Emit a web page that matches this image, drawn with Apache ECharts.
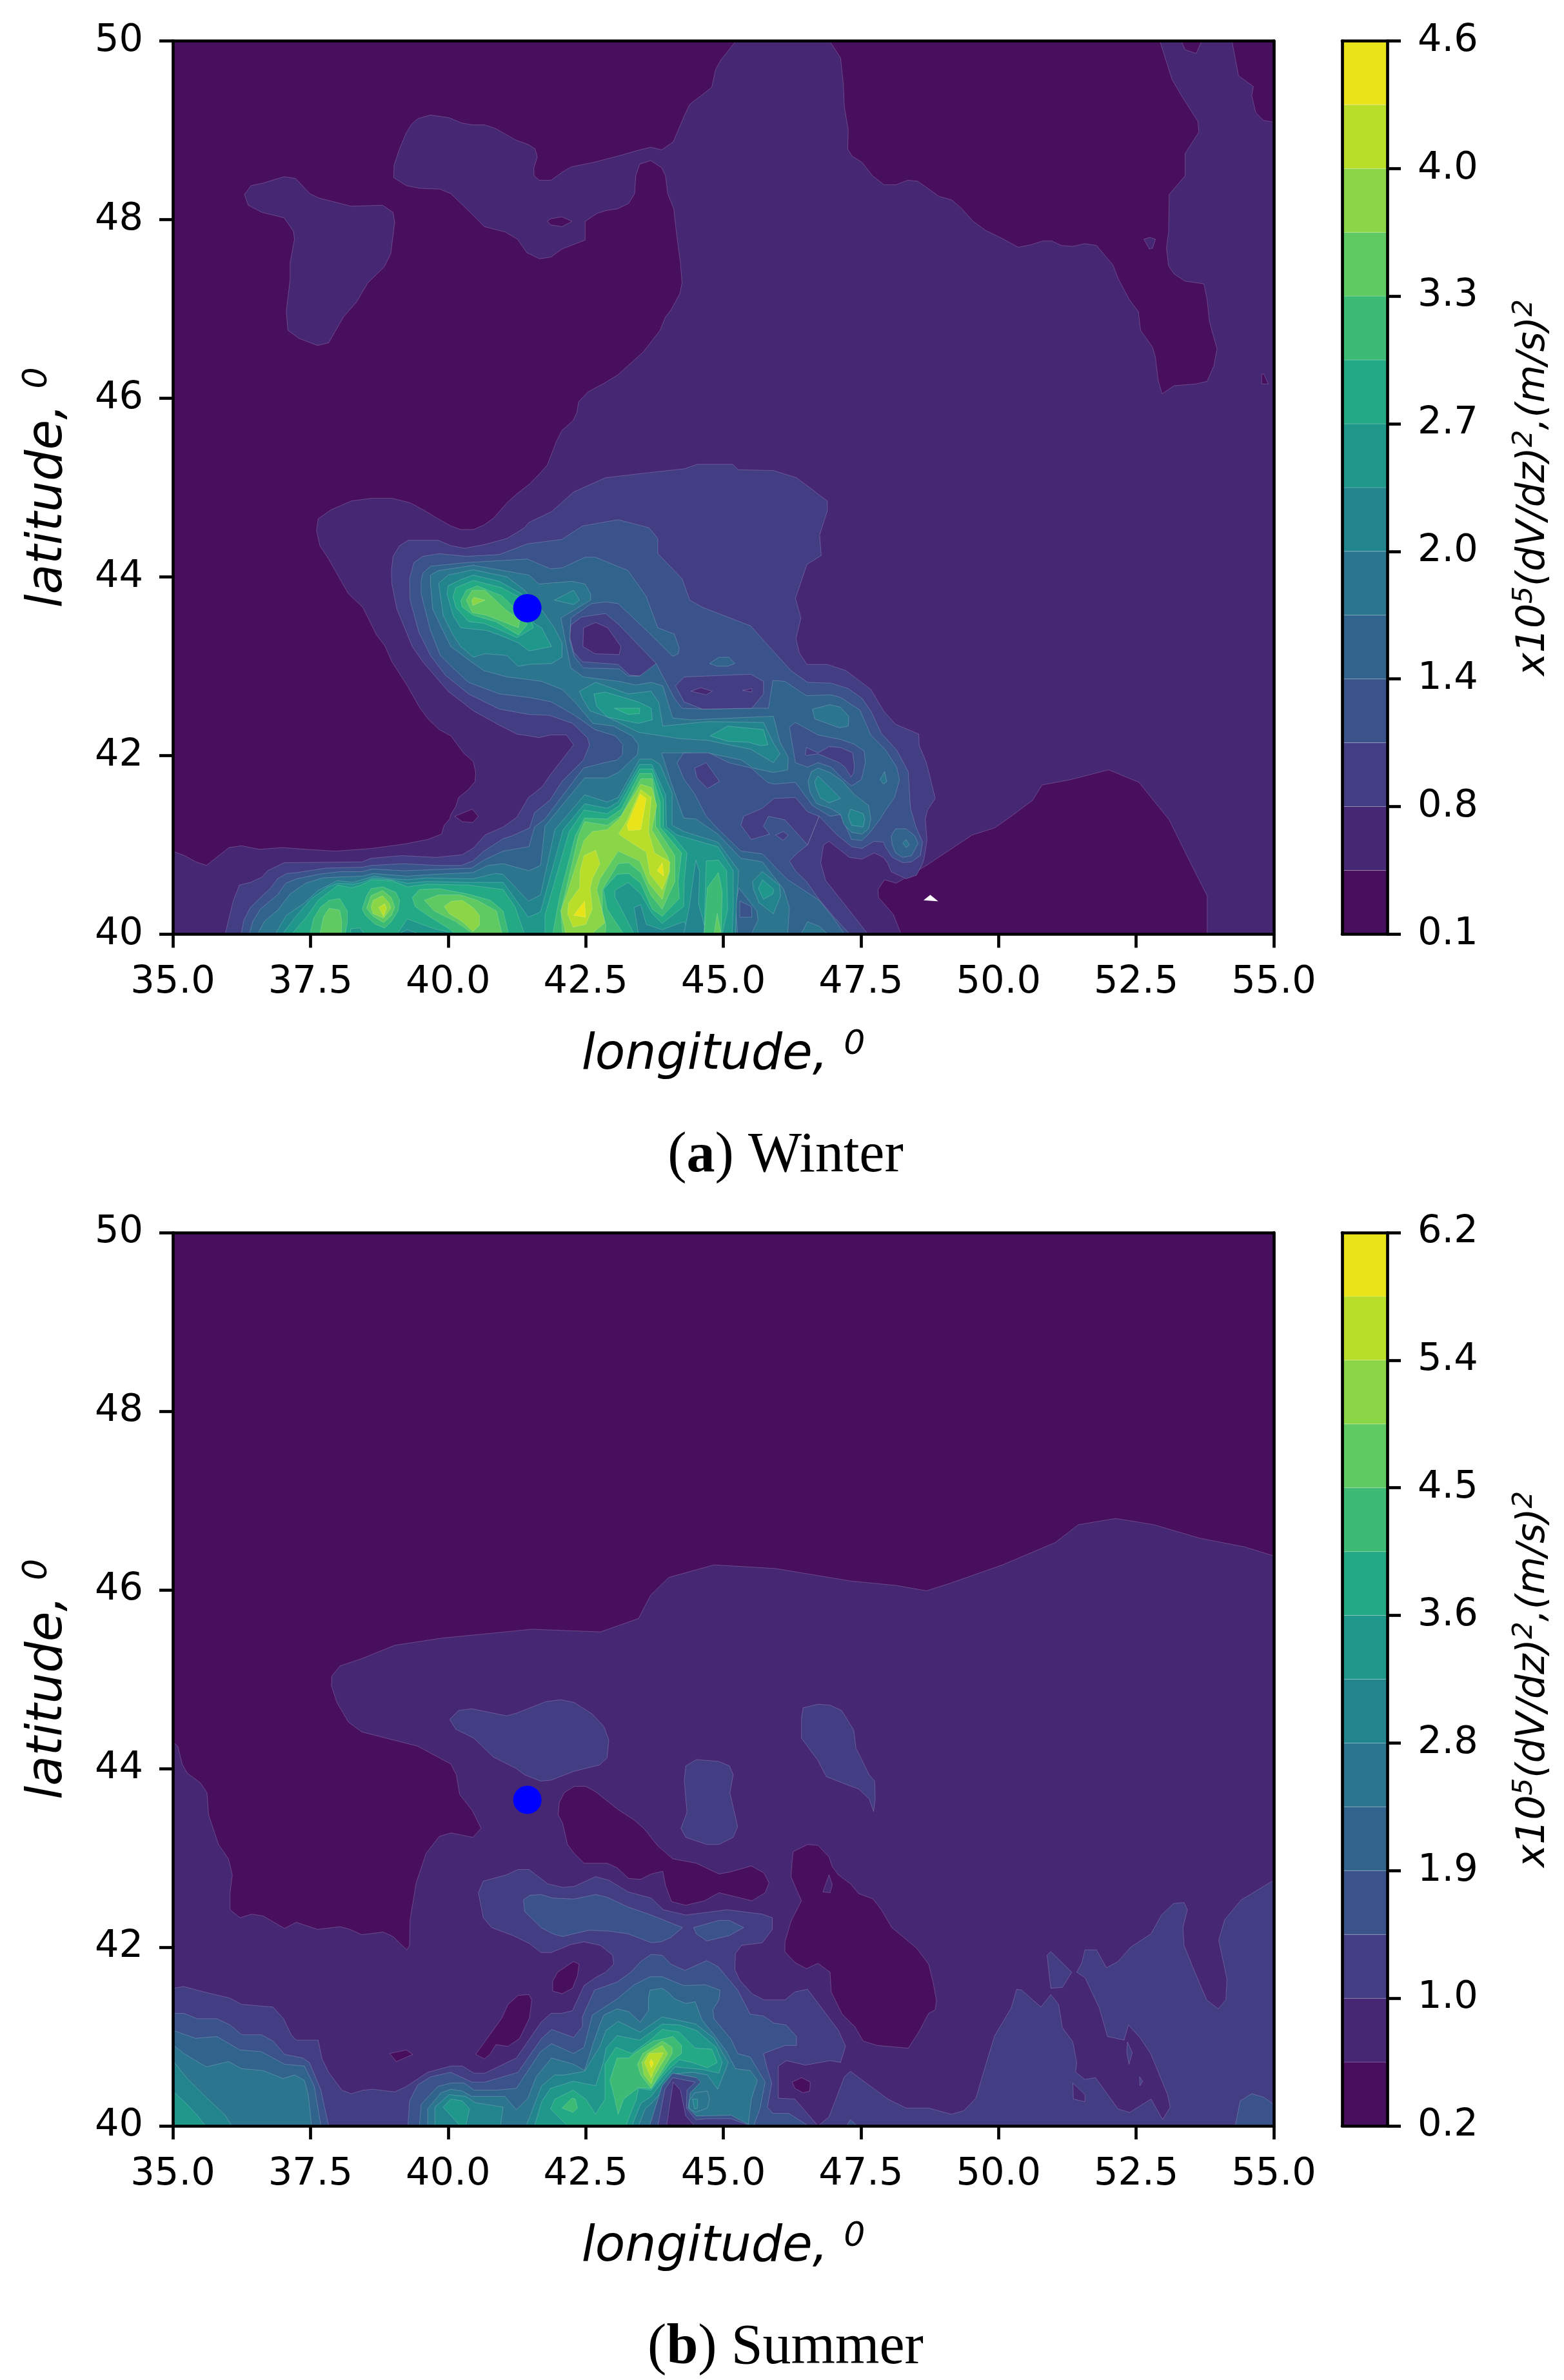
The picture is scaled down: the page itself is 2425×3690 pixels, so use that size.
<!DOCTYPE html>
<html>
<head>
<meta charset="utf-8">
<title>dV/dz winter summer</title>
<script src="https://cdn.jsdelivr.net/npm/echarts@6/dist/echarts.min.js"></script>
<style>
  html, body { margin: 0; background: #fff; }
  #chart { width: 2425px; height: 3690px; }
</style>
</head>
<body>
<div id="chart"></div>
<script>
// colour bands, low to high (last one = blank white spot)
const bandColors = ['#480f5f', '#462774', '#433d84', '#3a538b', '#31648d', '#2b758e', '#22858e',
  '#1f978b', '#23a983', '#3dbb75', '#5fca61', '#8bd646', '#b8de29', '#e8e419', '#ffffff']
const winterTicks = ['0.1', '0.8', '1.4', '2.0', '2.7', '3.3', '4.0', '4.6']
const summerTicks = ['0.2', '1.0', '1.9', '2.8', '3.6', '4.5', '5.4', '6.2']
const siteLon = [41.44]
const siteLat = [43.65]

// filled contours: [band, [lon, lat, lon, lat, ...]], painted in order
const winterContours = [
  [0, [35,40, 55,40, 55,50, 35,50]],
  [1, [45.23,50, 44.96,49.79, 44.86,49.68, 44.79,49.48, 44.39,49.29, 44.29,49.16, 44.09,48.87, 43.88,48.78, 43.68,48.81, 43.48,48.78, 43.08,48.71, 42.64,48.64, 42.24,48.59, 42.07,48.53, 41.87,48.44, 41.66,48.44, 41.56,48.49, 41.56,48.58, 41.62,48.7, 41.58,48.79, 41.46,48.84, 41.23,48.89, 40.86,49.02, 40.66,49.06, 40.45,49.06, 40.25,49.08, 40.02,49.14, 39.68,49.17, 39.45,49.13, 39.34,49.07, 39.24,48.97, 39.11,48.78, 39.02,48.61, 39.01,48.47, 39.24,48.38, 39.48,48.35, 39.85,48.34, 40.05,48.29, 40.42,48.07, 40.66,47.92, 41.04,47.86, 41.26,47.78, 41.43,47.63, 41.66,47.56, 41.87,47.58, 42.07,47.67, 42.49,47.77, 42.49,47.98, 42.71,48.07, 42.87,48.1, 43.08,48.12, 43.28,48.18, 43.39,48.29, 43.41,48.49, 43.48,48.62, 43.68,48.66, 43.88,48.58, 43.95,48.49, 43.99,48.29, 44.1,48.12, 44.15,47.84, 44.22,47.52, 44.25,47.29, 44.21,47.17, 44.05,46.99, 43.95,46.91, 43.85,46.76, 43.55,46.52, 43.08,46.26, 42.84,46.17, 42.54,46.07, 42.37,45.96, 42.34,45.84, 42.27,45.75, 42.07,45.64, 41.97,45.52, 41.8,45.25, 41.67,45.16, 41.48,45.04, 41.25,44.93, 41.07,44.83, 40.83,44.66, 40.65,44.58, 40.46,44.53, 40.23,44.53, 40.05,44.57, 39.82,44.65, 39.58,44.74, 39.31,44.83, 38.98,44.88, 38.61,44.88, 38.24,44.85, 37.87,44.75, 37.64,44.65, 37.61,44.52, 37.67,44.35, 37.82,44.21, 38.06,43.95, 38.19,43.81, 38.45,43.66, 38.7,43.35, 38.85,43.23, 38.98,43.05, 39.26,42.78, 39.49,42.53, 39.65,42.4, 39.84,42.29, 40.05,42.22, 40.28,42.03, 40.46,41.93, 40.5,41.81, 40.49,41.71, 40.37,41.62, 40.19,41.53, 40.14,41.43, 40.05,41.34, 40.03,41.29, 39.93,41.22, 39.88,41.12, 39.63,41.06, 39.21,41.01, 38.61,40.96, 37.96,40.93, 37.42,40.95, 36.99,40.97, 36.57,40.95, 36.25,40.99, 36.02,40.97, 35.61,40.77, 35.42,40.81, 35.21,40.88, 35,40.93, 35,40, 55,40, 55,50]],
  [1, [36.3,48.28, 36.42,48.38, 36.65,48.41, 37.02,48.48, 37.23,48.46, 37.49,48.29, 37.66,48.24, 38.24,48.15, 38.81,48.16, 39,48.08, 39.03,47.97, 38.96,47.62, 38.84,47.47, 38.54,47.29, 38.34,47.08, 38.1,46.91, 37.83,46.62, 37.63,46.59, 37.29,46.67, 37.09,46.76, 37.06,46.97, 37.13,47.33, 37.13,47.52, 37.21,47.78, 37.19,47.87, 37.02,48.02, 36.62,48.08, 36.37,48.16]],
  [0, [41.8,47.98, 41.87,48.01, 42.07,48.03, 42.25,47.98, 42.07,47.92, 41.87,47.94]],
  [0, [46.93,50, 47.13,49.81, 47.18,49.52, 47.2,49.26, 47.27,49, 47.26,48.79, 47.34,48.71, 47.52,48.64, 47.71,48.49, 47.92,48.39, 48.14,48.39, 48.35,48.44, 48.53,48.43, 48.92,48.26, 49.15,48.22, 49.32,48.13, 49.54,47.98, 49.76,47.88, 50.06,47.79, 50.36,47.69, 50.6,47.72, 50.8,47.76, 50.97,47.76, 51.14,47.71, 51.34,47.7, 51.57,47.73, 51.78,47.71, 52.08,47.49, 52.18,47.33, 52.38,47.1, 52.54,46.97, 52.58,46.76, 52.8,46.57, 52.85,46.46, 52.9,46.2, 52.97,46.05, 53.19,46.14, 53.59,46.16, 53.79,46.19, 53.91,46.36, 53.97,46.55, 53.83,46.86, 53.79,47.1, 53.73,47.28, 53.39,47.31, 53.19,47.39, 53.09,47.48, 53.05,47.68, 53.09,47.87, 53.1,48.28, 53.39,48.49, 53.39,48.74, 53.64,48.98, 53.62,49.1, 53.32,49.39, 53.15,49.57, 52.93,50]],
  [1, [52.64,47.78, 52.75,47.8, 52.85,47.78, 52.8,47.68, 52.74,47.67]],
  [0, [54.24,50, 54.36,49.61, 54.63,49.49, 54.6,49.39, 54.67,49.2, 54.81,49.11, 55,49.09, 55,50]],
  [0, [53.32,50, 53.39,49.9, 53.59,49.86, 53.69,50]],
  [0, [54.78,46.27, 54.82,46.27, 54.9,46.16, 54.78,46.16]],
  [0, [48.23,40, 48.09,40.22, 47.95,40.32, 47.82,40.41, 47.81,40.5, 47.93,40.61, 48.14,40.57, 48.69,40.77, 49.52,41.11, 49.93,41.19, 50.21,41.31, 50.62,41.5, 50.79,41.67, 51.31,41.73, 52,41.84, 52.55,41.7, 53.1,41.28, 53.51,40.77, 53.79,40.43, 53.79,40]],
  [0, [40.12,41.32, 40.44,41.4, 40.55,41.32, 40.45,41.25, 40.26,41.26]],
  [14, [48.64,40.38, 48.76,40.44, 48.9,40.37]],
  // band 2
  [2, [35.95,40, 36.1,40.38, 36.21,40.55, 36.41,40.58, 36.62,40.64, 36.72,40.71, 37.02,40.8, 38.44,40.81, 38.6,40.85, 39.16,40.88, 39.79,40.86, 40.26,40.89, 40.47,40.97, 40.67,41.11, 41,41.2, 41.25,41.31, 41.46,41.53, 41.71,41.65, 41.84,41.77, 42.28,42.12, 42.15,42.23, 41.86,42.23, 41.65,42.2, 41.47,42.22, 41.25,42.24, 40.93,42.34, 40.46,42.5, 40,42.72, 39.54,43.05, 39.35,43.22, 39.07,43.64, 38.98,43.92, 38.97,44.07, 39,44.23, 39.12,44.35, 39.28,44.41, 39.82,44.41, 40.05,44.35, 40.3,44.32, 40.65,44.36, 41.07,44.43, 41.39,44.55, 41.47,44.61, 41.88,44.73, 42.28,44.95, 42.86,45.11, 43.55,45.16, 44.29,45.21, 44.53,45.26, 45.17,45.26, 45.27,45.2, 45.91,45.19, 46.33,45.11, 46.89,44.85, 46.89,44.74, 46.75,44.47, 46.78,44.24, 46.52,44.14, 46.31,43.76, 46.41,43.54, 46.32,43.31, 46.38,43.15, 46.52,43.02, 46.89,43.02, 47.23,42.95, 47.68,42.74, 47.91,42.5, 48.13,42.35, 48.55,42.24, 48.56,42.11, 48.69,41.92, 48.85,41.52, 48.71,41.39, 48.67,41.29, 48.7,41.05, 48.65,40.86, 48.62,40.79, 48.51,40.66, 48.32,40.62, 48.05,40.7, 47.99,40.79, 47.91,40.86, 47.74,40.91, 47.52,40.84, 47.29,40.86, 46.92,41.04, 46.82,41, 46.77,40.8, 46.86,40.6, 47.17,40.36, 47.63,40]],
  // band 3
  [3, [36.24,40, 36.29,40.16, 36.41,40.3, 36.59,40.41, 36.78,40.52, 36.9,40.62, 37.07,40.68, 37.25,40.69, 37.78,40.74, 38.44,40.75, 38.6,40.77, 39.2,40.79, 39.79,40.77, 40.24,40.77, 40.45,40.82, 40.65,40.93, 41,41.07, 41.16,41.1, 41.48,41.19, 41.57,41.36, 41.85,41.5, 42.07,41.71, 42.46,41.95, 42.57,42.12, 42.53,42.2, 42.26,42.36, 41.84,42.45, 41.47,42.46, 40.93,42.52, 40.37,42.69, 39.95,42.9, 39.68,43.12, 39.47,43.38, 39.31,43.74, 39.3,43.98, 39.38,44.16, 39.54,44.23, 39.84,44.26, 40.33,44.23, 40.93,44.25, 41.44,44.37, 42.07,44.42, 42.44,44.57, 43.09,44.64, 43.65,44.55, 43.81,44.43, 43.81,44.26, 44.25,43.98, 44.39,43.74, 44.62,43.66, 45.5,43.45, 45.73,43.29, 46.23,42.95, 46.53,42.82, 46.96,42.81, 47.27,42.75, 47.52,42.64, 47.68,42.5, 47.87,42.25, 48.15,42.06, 48.36,41.82, 48.4,41.41, 48.5,41.2, 48.62,41.03, 48.58,40.88, 48.42,40.81, 48.26,40.8, 48.07,40.86, 47.95,40.97, 47.91,41.03, 47.74,41.04, 47.52,40.96, 47.33,40.98, 47.05,41.12, 46.74,41.32, 46.53,41, 46.35,40.91, 46.2,40.82, 46.31,40.71, 46.51,40.59, 46.74,40.39, 47,40.2, 47.3,40]],
  [2, [45.32,41.22, 45.37,41.32, 45.71,41.41, 45.92,41.52, 46.31,41.53, 46.53,41.37, 46.74,41.32, 46.53,41, 46.12,41.28, 45.82,41.32, 45.73,41.21, 45.84,41.12, 45.51,41.06]],
  [2, [45.95,41.11, 46.09,41.15, 46.18,41.11, 46.09,41.05]],
  [2, [42.23,43.46, 42.42,43.55, 42.86,43.59, 43.11,43.46, 43.78,43.03, 43.65,42.93, 43.48,42.89, 43.3,42.9, 43.09,43.02, 42.44,43.05, 42.28,43.16, 42.21,43.33]],
  [1, [42.46,43.43, 42.68,43.49, 42.9,43.43, 43.14,43.22, 43.11,43.13, 42.67,43.14, 42.45,43.22]],
  [4, [44.75,43.03, 44.92,43.1, 45.1,43.1, 45.21,43.03, 45.08,43, 44.89,43]],
  // band 4
  [4, [36.39,40, 36.45,40.14, 36.59,40.28, 36.9,40.44, 37.05,40.57, 37.25,40.62, 37.64,40.67, 38.03,40.7, 38.44,40.7, 38.62,40.73, 39.2,40.71, 40.43,40.74, 40.65,40.83, 41,40.93, 41.47,40.98, 41.57,41.2, 41.76,41.29, 42.46,41.86, 42.84,41.92, 43.07,41.95, 43.17,42.01, 43.17,42.1, 43.18,42.12, 43.04,42.22, 42.67,42.29, 42.3,42.45, 41.88,42.6, 41.47,42.65, 40.93,42.69, 40.37,42.82, 40.09,42.98, 39.86,43.12, 39.68,43.4, 39.51,43.81, 39.51,43.95, 39.54,44.04, 39.68,44.12, 40.33,44.16, 41.44,44.2, 41.86,44.09, 42.07,44.1, 42.49,44.22, 42.68,44.22, 43.27,44.07, 43.6,43.78, 43.81,43.43, 44.11,43.36, 44.2,43.2, 44.18,43.14, 44.08,43.11, 43.64,43.38, 43.09,43.7, 42.88,43.72, 42.6,43.7, 42.23,43.54, 42.21,43.29, 42.3,43.1, 42.46,42.98, 43.11,42.97, 43.27,42.89, 43.48,42.89, 43.78,43.03, 44.11,42.64, 44.25,42.53, 44.64,42.52, 45.52,42.53, 45.82,42.53, 45.9,42.84, 45.92,42.84, 46.12,42.83, 46.51,42.67, 46.96,42.68, 47.13,42.65, 47.48,42.51, 47.68,42.23, 47.95,42.06, 48.15,41.87, 48.2,41.73, 48.11,41.53, 47.95,41.39, 47.85,41.29, 47.64,41.12, 47.52,41.05, 47.33,41.06, 47.13,41.34, 46.94,41.32, 46.62,41.44, 46.31,41.7, 45.92,41.68, 45.8,41.7, 45.51,41.86, 45.1,41.92, 44.71,42.04, 44.28,42.03, 44.16,41.92, 44.28,41.74, 44.47,41.58, 44.69,41.32, 44.9,41.18, 45.32,40.93, 45.71,40.9, 46.15,40.62, 46.74,40.38, 47,40.18, 47.2,40]],
  [2, [44.13,42.78, 44.29,42.88, 45.5,42.91, 45.73,42.83, 45.73,42.69, 45.52,42.53, 44.62,42.52, 44.29,42.6]],
  [1, [44.41,42.72, 44.59,42.76, 44.8,42.72, 44.69,42.68]],
  [1, [45.35,42.73, 45.52,42.75, 45.52,42.71]],
  [2, [44.48,41.86, 44.69,41.92, 44.93,41.71, 44.71,41.63, 44.52,41.75]],
  [3, [46.2,42.32, 46.31,42.37, 46.72,42.23, 47.13,42.18, 47.37,42.13, 47.56,42.05, 47.58,41.92, 47.51,41.73, 47.33,41.66, 47.17,41.74, 46.96,41.87, 46.72,41.92, 46.53,41.87, 46.31,41.92]],
  [2, [46.49,42.01, 46.51,42.09, 46.72,42.03, 46.92,42.1, 47.13,42.09, 47.35,42.03, 47.38,41.89, 47.37,41.81, 47.32,41.76, 47.21,41.87, 47.11,41.92, 46.72,42.02, 46.51,42]],
  [4, [48.05,41.1, 48.13,41.18, 48.32,41.18, 48.48,41.1, 48.54,41.02, 48.42,40.88, 48.26,40.86, 48.13,40.91, 48.07,41]],
  [5, [48.26,41.02, 48.32,41.06, 48.38,41, 48.32,40.97]],
  // band 5
  [5, [36.54,40, 36.66,40.14, 36.92,40.28, 37.13,40.45, 37.41,40.57, 37.72,40.63, 38.03,40.64, 38.44,40.65, 38.64,40.68, 39.26,40.65, 39.75,40.67, 40.45,40.69, 40.73,40.77, 41,40.79, 41.47,40.71, 41.68,40.77, 41.76,41.21, 42.48,41.75, 42.89,41.75, 43.09,41.81, 43.44,42.01, 43.46,42.12, 43.34,42.22, 43,42.33, 42.63,42.36, 42.3,42.6, 42.07,42.74, 41.7,42.83, 41.47,42.85, 41.07,42.88, 40.65,42.95, 40.42,43.05, 40.05,43.22, 39.88,43.43, 39.72,43.64, 39.68,43.92, 39.68,44.02, 39.82,44.07, 40.46,44.13, 41.47,44.02, 41.65,43.92, 42.25,43.95, 42.49,43.92, 42.59,43.81, 42.59,43.74, 42.05,43.54, 42.16,43.19, 42.23,42.98, 42.46,42.88, 43.11,42.83, 43.41,42.79, 43.69,42.82, 43.9,42.78, 44.08,42.42, 44.43,42.4, 45.91,42.44, 46.03,42.15, 46.18,41.98, 46.17,41.84, 45.91,41.81, 45.54,41.86, 45.33,41.95, 44.71,42.03, 43.88,42.03, 44.05,41.7, 44.28,41.3, 44.5,41.29, 44.9,41.12, 45.32,40.85, 45.71,40.81, 46.1,40.5, 46.2,40.3, 46.17,40]],
  [4, [45.28,40.52, 45.61,40.26, 45.63,40.16, 45.51,40, 45.26,40, 45.22,40.31]],
  [3, [45.3,40.37, 45.51,40.31, 45.52,40.19, 45.3,40.19]],
  [5, [46.41,40, 46.53,40.14, 46.74,40.09, 46.9,40]],
  [5, [46.62,42.52, 46.94,42.57, 47.13,42.54, 47.28,42.44, 47.27,42.33, 47.11,42.31, 46.66,42.41]],
  [5, [46.54,41.71, 46.6,41.82, 46.72,41.86, 46.94,41.81, 47.17,41.71, 47.37,41.57, 47.64,41.44, 47.68,41.29, 47.64,41.18, 47.52,41.12, 47.33,41.14, 47.19,41.23, 47.13,41.34, 46.94,41.41, 46.7,41.46, 46.58,41.58]],
  [6, [46.66,41.71, 46.72,41.77, 46.94,41.64, 47.13,41.52, 46.92,41.47, 46.76,41.53, 46.68,41.65]],
  [6, [47.31,41.4, 47.54,41.35, 47.57,41.29, 47.54,41.2, 47.33,41.22, 47.27,41.32]],
  [5, [47.85,41.73, 47.93,41.82, 47.97,41.71, 47.91,41.68]],
  // band 6 and up
  [6, [41.93,43.74, 42.28,43.85, 42.39,43.74, 42.28,43.69]],
  [6, [39.83,43.93, 40,44.02, 40.46,44.08, 41.07,44, 41.39,43.85, 41.69,43.64, 41.93,43.43, 42.07,43.26, 42.07,43.1, 41.88,43.03, 41.47,43.02, 41.27,43, 41.07,43.12, 40.67,43.14, 40.46,43.1, 40.23,43.22, 40.09,43.35, 39.91,43.57, 39.84,43.88]],
  [7, [39.98,43.81, 40,43.9, 40.23,43.97, 40.46,44.02, 40.93,43.95, 41.34,43.81, 41.56,43.48, 41.7,43.43, 41.88,43.22, 41.47,43.17, 41.28,43.26, 40.93,43.35, 40.7,43.4, 40.23,43.43, 40.09,43.57]],
  [8, [40.09,43.78, 40.14,43.88, 40.46,43.96, 40.97,43.88, 41.39,43.74, 41.55,43.43, 41.25,43.32, 40.93,43.41, 40.65,43.48, 40.37,43.5, 40.14,43.66]],
  [9, [40.23,43.73, 40.33,43.85, 40.53,43.9, 40.97,43.79, 41.2,43.66, 41.44,43.47, 41.28,43.35, 40.86,43.5, 40.46,43.57, 40.26,43.66]],
  [10, [40.33,43.74, 40.44,43.85, 40.67,43.85, 41.07,43.62, 41.3,43.52, 41.28,43.43, 40.7,43.57, 40.44,43.6]],
  [11, [40.43,43.74, 40.47,43.77, 40.67,43.74, 40.45,43.68]],
  [6, [42.39,42.72, 42.68,42.82, 43.27,42.69, 43.69,42.72, 43.83,42.59, 43.9,42.33, 44.73,42.38, 45.73,42.37, 45.91,42.14, 46.03,42.02, 45.91,41.92, 45.5,42.07, 44.71,42.17, 44.2,42.19, 43.46,42.26, 42.9,42.43, 42.58,42.5, 42.44,42.64]],
  [7, [42.65,42.69, 42.86,42.71, 43.46,42.6, 43.69,42.53, 43.71,42.4, 43.46,42.36, 42.9,42.43, 42.7,42.55]],
  [7, [44.76,42.22, 45.08,42.33, 45.73,42.29, 45.81,42.12, 45.68,42.11, 45.45,42.15, 45.08,42.16]],
  [8, [43.02,42.53, 43.48,42.53, 43.48,42.47, 43.27,42.46]],
  [6, [36.86,40, 37.06,40.21, 37.39,40.35, 37.64,40.49, 37.99,40.6, 38.27,40.58, 38.44,40.61, 38.66,40.65, 38.97,40.62, 39.26,40.61, 39.59,40.63, 40.45,40.62, 40.86,40.68, 41,40.67, 41.46,40.37, 41.68,40.44, 41.94,41.17, 42.48,41.56, 42.89,41.48, 43.09,41.53, 43.48,41.96, 43.7,41.96, 43.85,41.9, 44.07,41.58, 44.07,41.22, 44.28,41.15, 44.9,41.03, 45.28,40.71, 45.24,40.33, 45.22,40]],
  [7, [36.99,40, 37.25,40.21, 37.52,40.4, 37.82,40.53, 38,40.57, 38.27,40.56, 38.44,40.58, 38.64,40.63, 38.97,40.61, 39.26,40.57, 39.61,40.59, 40.41,40.58, 41,40.58, 41.46,40.19, 41.68,40.25, 42.09,41.17, 42.48,41.46, 42.89,41.41, 43.09,41.48, 43.48,41.9, 43.7,41.9, 43.95,41.56, 43.97,41.2, 44.16,41.11, 44.9,40.98, 45.18,40.71, 45.18,40.3, 45.16,40]],
  [6, [43.38,40.3, 43.5,40.33, 43.6,40.11, 43.89,40.05, 44.28,40.14, 44.46,40, 43.46,40]],
  [6, [44.28,40, 44.38,40.3, 44.5,40.83, 44.57,40.7, 44.55,40.34, 44.7,40]],
  [6, [45.53,40.59, 45.71,40.7, 46.02,40.55, 46.04,40.43, 45.91,40.23, 45.65,40.35, 45.55,40.5]],
  [7, [45.64,40.51, 45.71,40.61, 45.92,40.5, 45.9,40.45, 45.73,40.39]],
  [8, [37.16,40, 37.45,40.21, 37.64,40.38, 38,40.55, 38.25,40.52, 38.42,40.55, 38.62,40.61, 38.97,40.6, 39.26,40.53, 39.63,40.56, 40.37,40.55, 40.88,40.51, 41,40.5, 41.22,40.3, 41.39,40]],
  [7, [38.23,40, 38.23,40.06, 38.4,40.07, 38.48,40]],
  [7, [39.07,40, 39.26,40.17, 39.75,40.06, 39.98,40.03, 40.02,40]],
  [6, [39.08,40, 39.26,40.05, 39.5,40]],
  [9, [37.49,40, 37.56,40.18, 37.68,40.3, 37.84,40.38, 38.03,40.4, 38.17,40.26, 38.17,40.14, 38.13,40]],
  [10, [37.67,40, 37.74,40.2, 37.84,40.29, 38.03,40.27, 38.07,40.14, 38.06,40]],
  [9, [38.44,40.28, 38.52,40.43, 38.6,40.51, 38.81,40.53, 39.05,40.47, 39.12,40.38, 39.09,40.26, 38.97,40.14, 38.85,40.07, 38.68,40.11, 38.5,40.21]],
  [10, [38.52,40.29, 38.6,40.43, 38.81,40.49, 38.97,40.41, 39.03,40.3, 38.97,40.21, 38.83,40.13, 38.64,40.2]],
  [11, [38.6,40.3, 38.64,40.38, 38.81,40.43, 38.93,40.35, 38.96,40.29, 38.83,40.18, 38.64,40.23]],
  [12, [38.74,40.3, 38.85,40.34, 38.88,40.29, 38.83,40.2]],
  [9, [39.35,40.41, 39.48,40.5, 39.83,40.51, 40.36,40.45, 40.77,40.38, 41,40.26, 41.1,40, 40.14,40, 40.02,40.06, 39.63,40.21, 39.4,40.31]],
  [10, [39.57,40.38, 39.83,40.44, 40.22,40.44, 40.53,40.38, 40.88,40.26, 40.98,40, 40.47,40, 40.14,40.14, 39.75,40.26]],
  [11, [39.93,40.31, 40.06,40.37, 40.26,40.38, 40.47,40.29, 40.57,40.21, 40.57,40.1, 40.45,40.03, 40.26,40.14, 40.02,40.23]],
  [8, [41.76,40, 41.76,40.21, 42.2,41.15, 42.47,41.39, 42.89,41.35, 43.11,41.44, 43.48,41.85, 43.71,41.85, 43.91,41.51, 43.91,41.2, 44.09,41.1, 44.34,40.91, 44.29,40.6, 44.28,40.31, 43.89,40.12, 43.71,40.23, 43.5,40.45, 43.27,40.58, 43.03,40.49, 43.03,40.42, 43.19,40.23, 43.38,40]],
  [8, [44.69,40.82, 44.91,40.83, 45.06,40.71, 45.08,40.28, 44.98,40, 44.65,40]],
  [9, [44.91,40.69, 44.98,40.47, 44.96,40, 44.65,40, 44.71,40.52]],
  [10, [44.89,40.23, 44.96,40, 44.83,40]],
  [9, [41.9,40, 42.03,40.43, 42.31,41.1, 42.48,41.3, 42.89,41.29, 43.15,41.4, 43.48,41.8, 43.7,41.8, 43.85,41.48, 43.85,41.2, 44.01,41.08, 44.24,40.91, 44.18,40.59, 44.2,40.4, 43.89,40.2, 43.71,40.28, 43.5,40.57, 43.28,40.68, 43.07,40.67, 42.82,40.5, 42.89,40.28, 43.19,40]],
  [10, [42.08,40, 42.05,40.26, 42.15,40.52, 42.37,41.1, 42.48,41.26, 42.89,41.22, 43.15,41.33, 43.5,41.74, 43.71,41.74, 43.77,41.46, 43.77,41.21, 44.12,40.88, 44.12,40.59, 43.89,40.28, 43.69,40.43, 43.5,40.69, 43.28,40.8, 43.09,40.79, 42.8,40.5, 42.8,40.26, 42.87,40.09, 42.85,40]],
  [11, [42.14,40, 42.05,40.26, 42.17,40.47, 42.38,40.88, 42.47,41.05, 42.62,41.15, 42.89,41.17, 43.11,41.29, 43.5,41.68, 43.7,41.64, 43.79,41.44, 43.7,41.17, 44,40.86, 44.03,40.71, 43.89,40.39, 43.65,40.57, 43.48,40.82, 43.09,40.93, 42.76,40.62, 42.7,40.5, 42.85,40.13, 42.6,40]],
  [12, [43.1,41.12, 43.25,41.27, 43.5,41.62, 43.69,41.53, 43.64,41.15, 43.75,40.91, 44.03,40.81, 44.01,40.69, 43.89,40.5, 43.67,40.67, 43.6,40.92, 43.34,41.02]],
  [12, [42.4,40.71, 42.47,40.88, 42.68,40.94, 42.76,40.79, 42.62,40.62, 42.58,40.51, 42.62,40.28, 42.5,40.11, 42.27,40.08, 42.17,40.23, 42.19,40.35, 42.39,40.52]],
  [13, [43.25,41.22, 43.49,41.57, 43.6,41.52, 43.5,41.17, 43.28,41.16]],
  [13, [43.8,40.71, 43.89,40.8, 43.92,40.65]],
  [13, [42.28,40.21, 42.48,40.37, 42.5,40.19]]
]

const summerContours = [
  [1, [35,40, 55,40, 55,50, 35,50]],
  [0, [35,44.3, 35,50, 55,50, 55,46.38, 54.48,46.48, 53.65,46.58, 52.82,46.73, 52.13,46.8, 51.45,46.73, 51.03,46.53, 50.07,46.28, 49.1,46.07, 48.69,45.99, 48.14,46.05, 47.31,46.1, 45.94,46.24, 44.83,46.28, 44.01,46.14, 43.68,45.94, 43.46,45.68, 42.77,45.53, 41.53,45.56, 39.88,45.46, 39.03,45.38, 38.43,45.23, 38.04,45.15, 37.89,45.04, 37.88,44.93, 37.98,44.74, 38.19,44.52, 38.43,44.41, 39.45,44.25, 40.05,44.05, 40.15,43.93, 40.21,43.71, 40.44,43.53, 40.6,43.33, 40.45,43.23, 40.05,43.28, 39.84,43.24, 39.6,43.05, 39.42,42.72, 39.31,42.31, 39.3,42.02, 39.25,41.97, 39,42.12, 38.82,42.17, 38.43,42.14, 38.22,42.2, 38.04,42.23, 37.63,42.2, 37.24,42.28, 37.03,42.21, 36.64,42.35, 36.43,42.37, 36.22,42.33, 36.04,42.42, 36.04,42.61, 36.08,42.81, 36.01,42.99, 35.83,43.15, 35.65,43.48, 35.62,43.73, 35.5,43.84, 35.26,43.95, 35.17,44.05, 35.09,44.25]],
  [2, [40.03,44.55, 40.19,44.65, 40.43,44.67, 41.06,44.59, 41.24,44.62, 41.78,44.75, 42.05,44.77, 42.29,44.74, 42.62,44.61, 42.83,44.47, 42.92,44.32, 42.89,44.12, 42.75,44.04, 42.29,43.97, 41.87,43.87, 41.68,43.86, 41.39,43.93, 41.24,44, 40.82,44.13, 40.47,44.34, 40.14,44.44]],
  [2, [44.29,43.87, 44.32,44.03, 44.51,44.1, 44.92,44.08, 45.11,44.03, 45.18,43.93, 45.12,43.73, 45.26,43.35, 45.18,43.23, 44.92,43.15, 44.7,43.15, 44.32,43.23, 44.23,43.33, 44.34,43.51]],
  [2, [46.45,44.68, 46.72,44.72, 46.94,44.71, 47.15,44.65, 47.37,44.43, 47.41,44.23, 47.65,43.93, 47.75,43.86, 47.76,43.66, 47.73,43.52, 47.65,43.66, 47.46,43.77, 47.16,43.84, 46.87,43.91, 46.72,44.09, 46.42,44.34, 46.42,44.56]],
  [0, [42.02,43.62, 42.11,43.73, 42.29,43.8, 42.5,43.8, 42.68,43.74, 43.09,43.54, 43.39,43.42, 43.57,43.32, 43.8,43.14, 44.08,42.99, 44.51,42.94, 44.92,42.82, 45.11,42.84, 45.51,42.91, 45.74,42.83, 45.83,42.72, 45.76,42.61, 45.52,42.52, 45.26,42.56, 44.92,42.61, 44.66,42.52, 44.32,42.47, 44.06,42.51, 43.95,42.69, 43.9,42.85, 43.69,42.82, 43.5,42.76, 43.28,42.77, 43.07,42.89, 42.89,42.94, 42.47,42.94, 42.29,43.05, 42.17,43.15, 42.08,43.39, 42,43.48]],
  [0, [46.27,43.07, 46.53,43.15, 46.72,43.14, 46.92,43.01, 46.98,42.9, 47.09,42.81, 47.31,42.71, 47.46,42.6, 47.72,42.54, 47.87,42.42, 48.06,42.22, 48.51,41.99, 48.73,41.81, 48.81,41.61, 48.87,41.41, 48.85,41.3, 48.73,41.26, 48.55,41.05, 48.36,40.87, 47.8,40.9, 47.54,40.95, 47.39,41.11, 47.16,41.25, 46.96,41.5, 46.94,41.72, 46.72,41.82, 46.51,41.76, 46.3,41.83, 46.12,41.95, 46.12,42.06, 46.23,42.29, 46.42,42.52, 46.34,42.63, 46.23,42.79, 46.25,42.97]],
  [1, [46.92,42.81, 46.98,42.7, 46.94,42.61, 46.81,42.62]],
  // band 2, south and south east
  [2, [55,42.75, 54.41,42.53, 54.11,42.31, 54,42.08, 54.15,41.64, 54.13,41.41, 53.99,41.31, 53.78,41.41, 53.52,41.79, 53.37,42.02, 53.35,42.22, 53.43,42.42, 53.37,42.5, 53.18,42.49, 52.96,42.36, 52.77,42.15, 52.4,42, 52.17,41.84, 51.96,41.77, 51.78,41.97, 51.57,41.97, 51.51,41.82, 51.42,41.72, 51.57,41.66, 51.83,41.32, 51.98,41, 52.28,40.96, 52.36,41.13, 52.58,40.98, 52.77,40.8, 53.07,40.35, 53.12,40.21, 52.98,40.07, 52.77,40.3, 52.38,40.15, 52.17,40.19, 51.76,40.54, 51.57,40.52, 51.4,40.6, 51.42,40.71, 51.35,40.94, 51.16,41.1, 51.09,41.36, 50.95,41.47, 50.77,41.33, 50.42,41.52, 50.33,41.53, 50.23,41.32, 49.93,41.01, 49.78,40.71, 49.59,40.31, 49.37,40.17, 49.14,40.13, 48.73,40.2, 48.32,40.2, 47.99,40.3, 47.31,40.61, 47.2,40.55, 46.92,40.1, 46.72,40, 55,40]],
  [2, [50.88,41.91, 50.95,41.95, 51.33,41.72, 51.16,41.55, 50.95,41.54]],
  [1, [51.35,40.48, 51.57,40.35, 51.57,40.27, 51.36,40.3]],
  [2, [52.34,40.94, 52.43,40.82, 52.37,40.69, 52.33,40.82]],
  [2, [52.56,40.55, 52.62,40.5, 52.57,40.45]],
  [3, [54.3,40, 54.39,40.28, 54.6,40.36, 54.82,40.32, 55,40.24, 55,40]],
  [2, [35,41.54, 35.2,41.56, 35.56,41.5, 36.04,41.43, 36.25,41.36, 36.82,41.33, 37.01,41.2, 37.15,41.02, 37.24,40.96, 37.64,40.96, 37.71,40.75, 37.83,40.6, 38.07,40.4, 38.24,40.36, 38.46,40.4, 38.64,40.41, 39.03,40.38, 39.24,40.44, 39.63,40.6, 40.05,40.67, 40.26,40.67, 40.47,40.59, 40.67,40.59, 41.24,40.76, 41.69,41.16, 41.87,41.26, 42.06,41.26, 42.26,41.29, 42.47,41.57, 42.68,41.66, 42.86,41.72, 43.01,41.81, 42.99,41.91, 42.77,42.02, 42.47,42.06, 42.23,42.03, 41.87,41.94, 41.69,41.94, 41.48,42.04, 41.18,42.13, 40.79,42.22, 40.64,42.33, 40.55,42.61, 40.64,42.74, 41.06,42.81, 41.27,42.87, 41.47,42.87, 41.81,42.71, 42.08,42.67, 42.29,42.68, 42.68,42.79, 42.92,42.75, 43.27,42.62, 43.69,42.55, 43.91,42.42, 44.32,42.36, 45.07,42.42, 45.71,42.37, 45.89,42.33, 45.89,42.2, 45.71,42.05, 45.33,42.02, 45.22,41.93, 45.21,41.75, 45.3,41.63, 45.52,41.48, 45.74,41.41, 46.12,41.41, 46.3,41.5, 46.53,41.53, 46.87,41.25, 47.09,41.07, 47.22,40.89, 47.13,40.71, 46.94,40.73, 46.49,40.68, 46.15,40.73, 46,40.67, 46,40.31, 46.3,40.3, 46.72,40, 35,40]],
  [0, [46.25,40.49, 46.42,40.54, 46.58,40.49, 46.57,40.39, 46.45,40.37, 46.3,40.42]],
  [0, [41.99,41.72, 42.28,41.84, 42.38,41.81, 42.35,41.68, 42.26,41.54, 42.07,41.48, 41.9,41.51, 41.9,41.62]],
  [0, [41.27,41.46, 41.47,41.47, 41.52,41.41, 41.48,41.21, 41.3,40.98, 41.09,40.89, 40.87,40.91, 40.76,40.8, 40.66,40.75, 40.5,40.8, 40.97,41.2, 41.09,41.36]],
  [0, [38.94,40.81, 39.24,40.85, 39.36,40.8, 39.06,40.72]],
  [3, [41.37,42.53, 41.48,42.58, 41.69,42.59, 41.9,42.55, 42.29,42.54, 42.68,42.59, 42.89,42.56, 43.27,42.45, 43.69,42.36, 44.26,42.22, 44.05,42.11, 43.87,42.06, 43.69,42.05, 43.27,42.15, 42.92,42.18, 42.56,42.19, 42.08,42.12, 41.9,42.15, 41.69,42.22, 41.39,42.4]],
  [3, [44.46,42.22, 44.92,42.3, 45.11,42.3, 45.37,42.22, 45.11,42.13, 44.7,42.07, 44.51,42.15]],
  // south west corner
  [3, [35,41.26, 35.2,41.26, 35.44,41.2, 35.8,41.2, 36.04,41.13, 36.25,41.02, 36.61,41.02, 36.82,40.95, 37.03,40.8, 37.36,40.76, 37.48,40.71, 37.69,40.4, 37.83,40, 35,40]],
  [4, [35,41.07, 35.41,40.98, 35.8,41, 36.22,40.85, 36.61,40.83, 37.03,40.69, 37.39,40.67, 37.57,40.44, 37.69,40, 35,40]],
  [5, [35,40.91, 35.2,40.81, 35.61,40.66, 36.01,40.72, 36.25,40.64, 36.64,40.62, 37,40.53, 37.21,40.57, 37.39,40.51, 37.46,40.35, 37.52,40, 35,40]],
  [6, [35,40.73, 35.26,40.53, 35.62,40.31, 35.95,40.12, 36.07,40, 35,40]],
  [7, [35,40.39, 35.26,40.24, 35.47,40.1, 35.59,40, 35,40]],
  // south centre
  [3, [39.27,40, 39.3,40.28, 39.45,40.46, 39.69,40.55, 40.05,40.6, 40.43,40.49, 40.67,40.49, 41.27,40.6, 41.7,40.98, 41.88,41.08, 42.28,40.99, 42.44,41.11, 42.44,41.22, 42.66,41.52, 43.07,41.61, 43.32,41.72, 43.5,41.84, 43.69,41.92, 43.89,41.91, 44.05,41.81, 44.3,41.74, 44.7,41.85, 44.91,41.78, 45.26,41.52, 45.49,41.25, 45.73,41.23, 45.92,41.15, 46.14,41.13, 46.33,41, 46.33,40.9, 46.12,40.9, 45.73,40.81, 45.79,40.66, 45.88,40.48, 45.8,40.21, 45.9,40.14, 46.19,40.14, 46.55,40]],
  [4, [39.48,40, 39.51,40.24, 39.81,40.44, 40.05,40.48, 40.29,40.48, 40.47,40.4, 40.88,40.4, 41.24,40.42, 41.68,40.83, 41.88,40.92, 42.28,40.81, 42.47,40.88, 42.62,41.24, 43.07,41.42, 43.38,41.58, 43.67,41.67, 43.89,41.67, 44.28,41.57, 44.67,41.58, 44.94,41.52, 44.92,41.41, 44.81,41.3, 44.83,41.2, 45.14,40.97, 45.26,40.81, 45.49,40.77, 45.76,40.49, 45.67,40.2, 45.55,40]],
  [5, [39.63,40, 39.63,40.19, 39.87,40.37, 40.05,40.41, 40.26,40.39, 40.43,40.33, 41.03,40.33, 41.24,40.18, 41.45,40.31, 41.6,40.55, 41.88,40.76, 42.28,40.69, 42.48,40.62, 42.64,40.93, 42.76,41.14, 42.83,41.24, 43.07,41.31, 43.28,41.28, 43.49,41.16, 43.64,41.29, 43.64,41.43, 43.67,41.52, 43.89,41.54, 44.01,41.49, 44.12,41.42, 44.32,41.37, 44.49,41.39, 44.61,41.19, 44.83,41.02, 45.06,40.83, 45.22,40.64, 45.49,40.62, 45.62,40.51, 45.51,40.3, 45.45,40]],
  [6, [39.76,40, 39.76,40.21, 40.02,40.35, 40.32,40.33, 40.49,40.26, 41,40.21, 40.95,40]],
  [7, [39.91,40.21, 40.05,40.3, 40.26,40.28, 40.39,40.19, 40.32,40, 40.22,40]],
  [6, [41.42,40, 41.7,40.45, 41.94,40.57, 42.11,40.57, 42.48,40.61, 42.76,40.89, 42.87,41.07, 43.09,41.17, 43.49,41.05, 43.89,41.22, 44.5,41.14, 44.83,40.98, 45.09,40.71, 44.9,40.41, 44.71,40.57, 44.44,40.6, 44.08,40.58, 43.95,40.42, 43.69,40.25, 43.58,40.19, 43.46,40]],
  [7, [41.57,40, 41.7,40.27, 41.86,40.42, 42.27,40.5, 42.68,40.45, 42.82,40.71, 42.87,40.87, 43.07,41.01, 43.48,40.96, 43.89,41.14, 44.2,41.13, 44.51,41.07, 44.87,40.88, 44.98,40.71, 44.92,40.59, 44.63,40.63, 44.12,40.66, 43.95,40.54, 43.69,40.33, 43.5,40.25, 43.34,40]],
  [8, [41.86,40.19, 41.94,40.3, 42.27,40.4, 42.5,40.3, 42.68,40.13, 42.85,40.3, 42.85,40.69, 43.05,40.88, 43.34,40.81, 43.67,40.96, 43.89,41.08, 44.2,41.05, 44.49,40.87, 44.79,40.86, 44.89,40.71, 44.71,40.65, 44.44,40.71, 44.2,40.74, 43.97,40.61, 43.69,40.4, 43.46,40.42, 43.42,40.3, 43.34,40.18, 43.23,40, 42.17,40]],
  [9, [42.07,40.2, 42.25,40.31, 42.31,40.3, 42.35,40.2, 42.27,40.15]],
  [9, [42.94,40.51, 43.07,40.76, 43.28,40.76, 43.38,40.81, 43.73,40.95, 44.09,41, 44.24,40.9, 44.24,40.81, 44.05,40.72, 43.69,40.42, 43.46,40.43, 43.19,40.3, 43.09,40.13, 43.01,40.35]],
  [10, [43.44,40.69, 43.54,40.81, 43.89,40.95, 44.07,40.88, 44.07,40.81, 43.69,40.42, 43.5,40.57]],
  [11, [43.52,40.71, 43.62,40.81, 43.89,40.9, 43.99,40.81, 43.73,40.54, 43.69,40.47, 43.56,40.57]],
  [12, [43.57,40.71, 43.66,40.81, 43.91,40.82, 43.73,40.61, 43.69,40.54, 43.6,40.66]],
  [13, [43.66,40.71, 43.69,40.75, 43.73,40.7, 43.69,40.65]],
  [3, [43.66,40, 43.89,40.45, 44.08,40.59, 44.51,40.54, 44.59,40.49, 44.4,40.37, 44.36,40.2, 44.51,40.11, 45.14,40.12, 45.51,40]],
  [2, [43.81,40, 43.94,40.41, 44.08,40.54, 44.49,40.49, 44.34,40.4, 44.33,40.2, 44.5,40.07, 44.71,40.08, 45.14,40.08, 45.49,40]],
  [1, [43.97,40, 44.09,40.49, 44.22,40.4, 44.32,40.11, 44.48,40]],
  [5, [44.38,40.28, 44.48,40.37, 44.71,40.39, 44.75,40.3, 44.71,40.2, 44.49,40.15, 44.38,40.2]],
  [6, [44.44,40.3, 44.53,40.3, 44.53,40.2, 44.48,40.19]],
  [3, [47.24,40, 47.31,40.07, 47.43,40]]
]

const panels = [
  { top: 63.4, contours: winterContours, ticks: winterTicks, title: '({b|a}) Winter', titleTop: 1744 },
  { top: 1911, contours: summerContours, ticks: summerTicks, title: '({b|b}) Summer', titleTop: 3592 }
]
const plotH = 1385
const lineW = 4.7
const tickStyle = { color: '#000', fontSize: 59, fontFamily: 'DejaVu Sans' }
const axisLine = { show: true, onZero: false, lineStyle: { color: '#000', width: lineW } }
const axisTick = { show: true, length: 21, lineStyle: { color: '#000', width: lineW } }
// superscripts sit on a padded inline box so they rise above the baseline
const nameStyle = {
  color: '#000', fontSize: 76, fontStyle: 'italic', fontFamily: 'DejaVu Sans',
  rich: { s: { fontSize: 52, fontStyle: 'italic', fontFamily: 'DejaVu Sans', color: '#000', padding: [0, 0, 34, 0] } }
}
const barNameStyle = {
  color: '#000', fontSize: 60, fontStyle: 'italic', fontFamily: 'DejaVu Sans',
  rich: { s: { fontSize: 42, fontStyle: 'italic', fontFamily: 'DejaVu Sans', color: '#000', padding: [0, 0, 28, 0] } }
}

const grid = [], xAxis = [], yAxis = [], series = [], title = []

panels.forEach((p, n) => {
  const map = n * 2
  const bar = n * 2 + 1
  grid.push({ left: 268, top: p.top, width: 1707, height: plotH })
  grid.push({ left: 2081, top: p.top, width: 70, height: plotH })

  // map axes, the frame's top and right sides are drawn as extra axes
  const ax = xAxis.length, ay = yAxis.length
  xAxis.push({
    type: 'value', gridIndex: map, min: 35, max: 55, interval: 2.5, z: 10, position: 'bottom',
    axisLine, axisTick, splitLine: { show: false }, name: 'longitude, {s|0}', nameLocation: 'middle', nameGap: 146,
    nameTextStyle: nameStyle, axisLabel: { ...tickStyle, margin: 46, formatter: v => v.toFixed(1) }
  })
  xAxis.push({
    type: 'value', gridIndex: map, min: 35, max: 55, z: 10, position: 'top',
    axisLine, axisTick: { show: false }, axisLabel: { show: false }, splitLine: { show: false }
  })
  yAxis.push({
    type: 'value', gridIndex: map, min: 40, max: 50, interval: 2, z: 10, position: 'left',
    axisLine, axisTick, splitLine: { show: false }, name: 'latitude, {s|0}', nameLocation: 'middle', nameGap: 150,
    nameTextStyle: nameStyle, axisLabel: { ...tickStyle, margin: 46 }
  })
  yAxis.push({
    type: 'value', gridIndex: map, min: 40, max: 50, z: 10, position: 'right',
    axisLine, axisTick: { show: false }, axisLabel: { show: false }, splitLine: { show: false }
  })

  // colour bar axes
  const bx = xAxis.length, by = yAxis.length
  xAxis.push({
    type: 'value', gridIndex: bar, min: 0, max: 1, z: 10, position: 'bottom',
    axisLine, axisTick: { show: false }, axisLabel: { show: false }, splitLine: { show: false }
  })
  xAxis.push({
    type: 'value', gridIndex: bar, min: 0, max: 1, z: 10, position: 'top',
    axisLine, axisTick: { show: false }, axisLabel: { show: false }, splitLine: { show: false }
  })
  yAxis.push({
    type: 'value', gridIndex: bar, min: 0, max: 14, interval: 2, z: 10, position: 'right',
    axisLine, axisTick, splitLine: { show: false }, name: 'x10{s|5}(dV/dz){s|2},(m/s){s|2}', nameLocation: 'middle',
    nameRotate: 90, nameGap: 192, nameTextStyle: barNameStyle,
    axisLabel: { ...tickStyle, margin: 47, formatter: v => p.ticks[v / 2] }
  })
  yAxis.push({
    type: 'value', gridIndex: bar, min: 0, max: 14, z: 10, position: 'left',
    axisLine, axisTick: { show: false }, axisLabel: { show: false }, splitLine: { show: false }
  })

  series.push({
    type: 'custom', xAxisIndex: ax, yAxisIndex: ay, clip: true, silent: true, animation: false,
    data: p.contours.map(c => [c[1][0], c[1][1], c[0]]),
    encode: { x: 0, y: 1 },
    renderItem: (params, api) => {
      const c = p.contours[params.dataIndex]
      const points = []
      for (let i = 0; i < c[1].length; i += 2) points.push(api.coord([c[1][i], c[1][i + 1]]))
      return {
        type: 'polygon',
        shape: { points },
        style: { fill: bandColors[c[0]], stroke: 'rgba(255,255,255,0.2)', lineWidth: 1 }
      }
    }
  })
  series.push({
    type: 'custom', xAxisIndex: bx, yAxisIndex: by, silent: true, animation: false,
    data: bandColors.slice(0, 14).map((col, i) => [0, i]),
    encode: { x: 0, y: 1 },
    renderItem: (params, api) => {
      const low = api.coord([0, api.value(1)])
      const high = api.coord([1, api.value(1) + 1])
      return {
        type: 'rect',
        shape: { x: low[0], y: high[1], width: high[0] - low[0], height: low[1] - high[1] },
        style: { fill: bandColors[params.dataIndex], stroke: 'rgba(255,255,255,0.2)', lineWidth: 1 }
      }
    }
  })
  series.push({
    type: 'scatter', xAxisIndex: ax, yAxisIndex: ay, symbolSize: 44, z: 8, silent: true, animation: false,
    itemStyle: { color: '#0000ff', opacity: 1 },
    data: siteLon.map((lon, i) => [lon, siteLat[i]])
  })

  title.push({
    text: p.title, left: 1213, top: p.titleTop, textAlign: 'center',
    textStyle: {
      color: '#000', fontFamily: 'Liberation Serif', fontWeight: 'normal', fontSize: 88,
      rich: { b: { fontFamily: 'Liberation Serif', fontWeight: 'bold', fontSize: 88, color: '#000' } }
    }
  })
})

const chart = echarts.init(document.getElementById('chart'), null, { renderer: 'canvas' })
chart.setOption({
  animation: false,
  backgroundColor: '#fff',
  title, grid, xAxis, yAxis, series
})
</script>
</body>
</html>
